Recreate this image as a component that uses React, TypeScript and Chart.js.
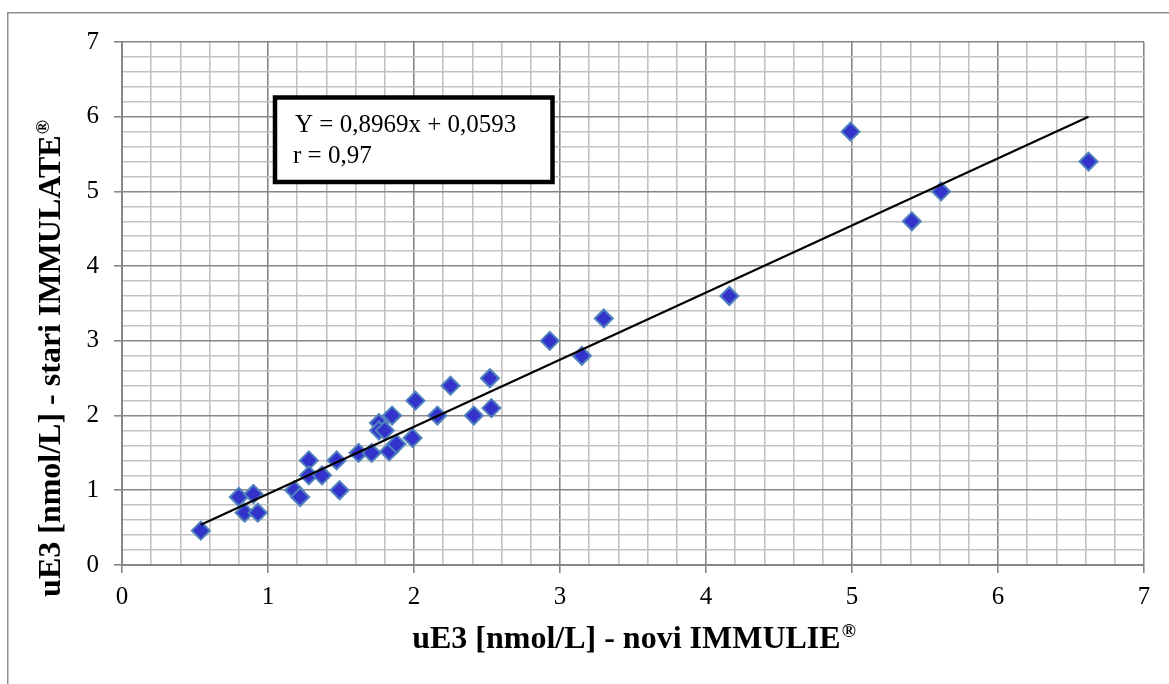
import React, { useEffect, useRef } from 'react';
import { Chart, registerables } from 'chart.js';

Chart.register(...registerables);

// Measured values (novi IMMULIE, stari IMMULATE)
const xValues = [
  0.54, 0.80, 0.90, 0.84, 0.93, 1.18, 1.22, 1.28, 1.28, 1.37,
  1.47, 1.49, 1.62, 1.71, 1.76, 1.76, 1.80, 1.85, 1.83, 1.88,
  1.99, 2.01, 2.16, 2.25, 2.41, 2.52, 2.53, 2.93, 3.15, 3.30,
  4.16, 4.99, 5.41, 5.61, 6.62,
];
const yValues = [
  0.46, 0.91, 0.95, 0.70, 0.70, 1.00, 0.91, 1.40, 1.20, 1.20,
  1.40, 1.00, 1.50, 1.50, 1.90, 1.80, 1.80, 2.00, 1.52, 1.62,
  1.70, 2.20, 2.00, 2.40, 2.00, 2.50, 2.10, 3.00, 2.80, 3.30,
  3.60, 5.80, 4.60, 5.00, 5.40,
];
// Trend line end points
const trendX = [0.54, 6.62];
const trendY = [0.54, 6.0];

const axisMin = 0;
const axisMax = 7;
const minorStep = 0.2;

const xTitle = 'uE3 [nmol/L] - novi IMMULIE';
const yTitle = 'uE3 [nmol/L] - stari IMMULATE';
const regMark = '®';
const equationLines = ['Y = 0,8969x + 0,0593', 'r = 0,97'];

const SERIF = '"Liberation Serif", "Times New Roman", serif';
const MAJOR = '#868686';
const MINOR = '#c2c2c2';

const isMajor = (v: number) => Math.abs(v - Math.round(v)) < 1e-6;

function drawTitle(ctx: CanvasRenderingContext2D, text: string, cx: number, baseline: number) {
  ctx.font = `bold 32px ${SERIF}`;
  const w1 = ctx.measureText(text).width;
  ctx.font = `bold 19px ${SERIF}`;
  const w2 = ctx.measureText(regMark).width;
  const start = cx - (w1 + w2) / 2;
  ctx.fillStyle = '#000';
  ctx.textAlign = 'left';
  ctx.textBaseline = 'alphabetic';
  ctx.font = `bold 32px ${SERIF}`;
  ctx.fillText(text, start, baseline);
  ctx.font = `bold 19px ${SERIF}`;
  ctx.fillText(regMark, start + w1 + 1, baseline - 11);
}

const decorPlugin = {
  id: 'decor',
  afterDraw(chart: any) {
    const ctx: CanvasRenderingContext2D = chart.ctx;
    ctx.save();
    // outer frame
    ctx.strokeStyle = '#8e8e8e';
    ctx.lineWidth = 1.5;
    ctx.beginPath();
    ctx.moveTo(7.75, 690);
    ctx.lineTo(7.75, 12.75);
    ctx.lineTo(1175, 12.75);
    ctx.stroke();

    // x title
    drawTitle(ctx, xTitle, 633.5, 648);
    // y title (rotated)
    ctx.save();
    ctx.translate(60, 359);
    ctx.rotate(-Math.PI / 2);
    drawTitle(ctx, yTitle, 0, 0);
    ctx.restore();

    // equation box
    ctx.fillStyle = '#fff';
    ctx.fillRect(275, 97.5, 277.5, 84.5);
    ctx.strokeStyle = '#000';
    ctx.lineWidth = 4.5;
    ctx.strokeRect(275, 97.5, 277.5, 84.5);
    ctx.fillStyle = '#000';
    ctx.font = `25px ${SERIF}`;
    ctx.textAlign = 'left';
    ctx.textBaseline = 'alphabetic';
    ctx.fillText(equationLines[0], 295, 132);
    ctx.fillText(equationLines[1], 293, 163);
    ctx.restore();
  },
};

function makeScale(isX: boolean) {
  return {
    type: 'linear' as const,
    min: axisMin,
    max: axisMax,
    border: { color: MAJOR, width: 2 },
    grid: {
      color: (c: any) => (isMajor(c.tick.value) ? MAJOR : MINOR),
      lineWidth: 1.6,
      tickLength: 8,
      tickColor: (c: any) => (isMajor(c.tick.value) ? MAJOR : 'rgba(0,0,0,0)'),
      tickWidth: 1.6,
    },
    ticks: {
      stepSize: minorStep,
      autoSkip: false,
      maxTicksLimit: 100,
      maxRotation: 0,
      minRotation: 0,
      padding: isX ? 9 : 15,
      color: '#000',
      font: { family: SERIF, size: 25 },
      callback: (v: any) => (isMajor(Number(v)) ? String(Math.round(Number(v))) : ''),
    },
    afterFit: (scale: any) => {
      if (isX) scale.height = 119;
      else scale.width = 122;
    },
  };
}

export default function App() {
  const ref = useRef<HTMLCanvasElement | null>(null);
  useEffect(() => {
    document.body.style.margin = '0';
    const canvas = ref.current!;
    const chart = new Chart(canvas, {
      type: 'scatter',
      data: {
        datasets: [
          {
            type: 'line',
            label: 'trend',
            data: trendX.map((x, i) => ({ x, y: trendY[i] })),
            borderColor: '#000',
            borderWidth: 2.2,
            pointRadius: 0,
            fill: false,
            order: 0,
          } as any,
          {
            label: 'uE3',
            data: xValues.map((x, i) => ({ x, y: yValues[i] })),
            pointStyle: 'rectRot',
            pointRadius: 9,
            pointHoverRadius: 9,
            backgroundColor: '#3333CC',
            borderColor: '#4F81BD',
            borderWidth: 2,
            order: 1,
          },
        ],
      },
      options: {
        animation: false,
        responsive: false,
        devicePixelRatio: 1,
        layout: { padding: { left: 0, top: 42, right: 25, bottom: 0 } },
        plugins: {
          legend: { display: false },
          tooltip: { enabled: false },
          title: { display: false },
        },
        scales: {
          x: makeScale(true),
          y: makeScale(false),
        },
      },
      plugins: [decorPlugin],
    });
    return () => chart.destroy();
  }, []);
  return (
    <div style={{ position: 'fixed', left: 0, top: 0, width: 1169, height: 684, background: '#fff' }}>
      <canvas ref={ref} width={1169} height={684} />
    </div>
  );
}
